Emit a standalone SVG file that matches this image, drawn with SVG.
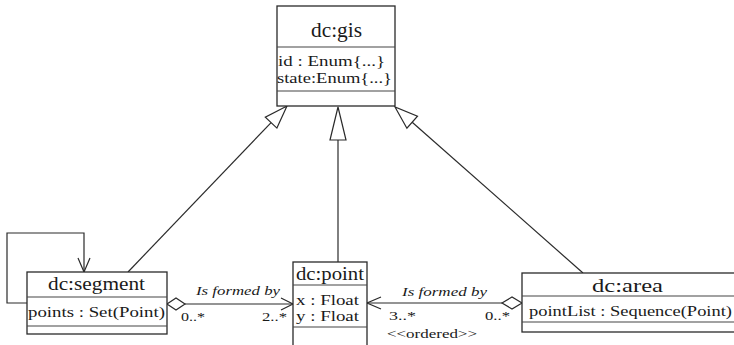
<svg xmlns="http://www.w3.org/2000/svg" width="734" height="345" viewBox="0 0 734 345" font-family="'Liberation Serif', 'Times New Roman', serif">
<style>
  .box { fill: #ffffff; stroke: #2a2a2a; stroke-width: 1.3; }
  .div { stroke: #444; stroke-width: 1.2; fill: none; }
  .ln { stroke: #2a2a2a; stroke-width: 1.2; fill: none; }
  .tri { stroke: #2a2a2a; stroke-width: 1.2; fill: #ffffff; }
  .dia { stroke: #2a2a2a; stroke-width: 1.2; fill: #ffffff; }
  text { font-family: "Liberation Serif", "Times New Roman", serif; fill: #1a1a1a; }
  .name { font-size: 18.5px; }
  .attr { font-size: 15px; }
  .lbl { font-size: 13.5px; font-style: italic; }
  .mult { font-size: 13.5px; }
</style>

<g id="connectors">
  <!-- generalizations -->
  <path class="ln" d="M128,272 L271.1,122.6"/>
  <polygon class="tri" points="287,106 276.9,128.1 265.3,117.1"/>
  <path class="ln" d="M338,262 V140"/>
  <polygon class="tri" points="338,107 330,140 346,140"/>
  <path class="ln" d="M583,273 L412.2,122.2"/>
  <polygon class="tri" points="395,107 406.9,128.2 417.5,116.2"/>
  <!-- self association on segment -->
  <path class="ln" d="M27,303 H7 V233 H84 V272"/>
  <path class="ln" d="M78,258 L84,272 L90,258"/>
  <!-- segment to point aggregation -->
  <path class="ln" d="M185,304 H293"/>
  <polygon class="dia" points="167,304 176,298 185,304 176,310"/>
  <path class="ln" d="M281,298 L293,304 L281,310"/>
  <text class="lbl" x="196" y="295" textLength="84" lengthAdjust="spacingAndGlyphs">Is formed by</text>
  <text class="mult" x="181" y="321" textLength="24" lengthAdjust="spacingAndGlyphs">0..*</text>
  <text class="mult" x="262" y="321" textLength="25" lengthAdjust="spacingAndGlyphs">2..*</text>
  <!-- area to point aggregation -->
  <path class="ln" d="M502,303 H367"/>
  <polygon class="dia" points="522,303 512,297 502,303 512,309"/>
  <path class="ln" d="M381,297 L367,303 L381,309"/>
  <text class="lbl" x="402" y="296" textLength="85" lengthAdjust="spacingAndGlyphs">Is formed by</text>
  <text class="mult" x="389" y="320" textLength="27" lengthAdjust="spacingAndGlyphs">3..*</text>
  <text class="mult" x="485" y="320" textLength="25" lengthAdjust="spacingAndGlyphs">0..*</text>
  <text class="mult" x="387" y="338" textLength="90" lengthAdjust="spacingAndGlyphs">&lt;&lt;ordered&gt;&gt;</text>
</g>

<g id="gis">
  <rect class="box" x="277" y="6" width="118" height="100"/>
  <path class="div" d="M277,47 H395 M277,91 H395"/>
  <text class="name" x="311" y="37" style="font-size:20px" textLength="51" lengthAdjust="spacingAndGlyphs">dc:gis</text>
  <text class="attr" x="278" y="66" textLength="107" lengthAdjust="spacingAndGlyphs">id : Enum{...}</text>
  <text class="attr" x="277" y="83" textLength="115" lengthAdjust="spacingAndGlyphs">state:Enum{...}</text>
</g>

<g id="segment">
  <rect class="box" x="27" y="272" width="140" height="62"/>
  <path class="div" d="M27,297 H167 M27,326 H167"/>
  <text class="name" x="48" y="290" textLength="97" lengthAdjust="spacingAndGlyphs">dc:segment</text>
  <text class="attr" x="28" y="317" textLength="137" lengthAdjust="spacingAndGlyphs">points : Set(Point)</text>
</g>

<g id="point">
  <rect class="box" x="293" y="262" width="74" height="95"/>
  <path class="div" d="M293,285 H367 M293,327 H367"/>
  <text class="name" x="296" y="280" textLength="68" lengthAdjust="spacingAndGlyphs">dc:point</text>
  <text class="attr" x="296" y="305" textLength="63" lengthAdjust="spacingAndGlyphs">x : Float</text>
  <text class="attr" x="296" y="321" textLength="63" lengthAdjust="spacingAndGlyphs">y : Float</text>
</g>

<g id="area">
  <rect class="box" x="522" y="273" width="230" height="59"/>
  <path class="div" d="M522,296 H752 M522,322 H752"/>
  <text class="name" x="592" y="292" textLength="71" lengthAdjust="spacingAndGlyphs">dc:area</text>
  <text class="attr" x="529" y="316" textLength="203" lengthAdjust="spacingAndGlyphs">pointList : Sequence(Point)</text>
</g>
</svg>
